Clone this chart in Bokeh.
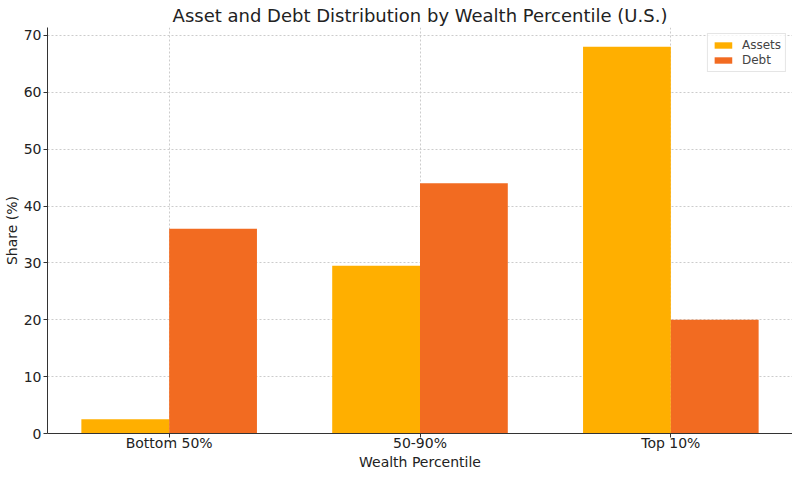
from bokeh.plotting import figure
from bokeh.models import ColumnDataSource, FactorRange, Legend, LegendItem
from bokeh.transform import dodge
from bokeh.embed import file_html
from bokeh.resources import INLINE

categories = ["Bottom 50%", "50-90%", "Top 10%"]
assets = [2.5, 29.5, 68]
debt = [36, 44, 20]
series_names = ["Assets", "Debt"]

src = ColumnDataSource(dict(cat=categories, assets=assets, debt=debt))

FONT = "DejaVu Sans"
p = figure(
    x_range=FactorRange(factors=categories, range_padding=-0.015, range_padding_units="absolute"),
    y_range=(0, 71.4),
    frame_width=745, frame_height=406,
    output_backend="svg", toolbar_location=None,
    title="Asset and Debt Distribution by Wealth Percentile (U.S.)",
    min_border_left=0, min_border_right=0, min_border_top=0, min_border_bottom=0,
)
p.title.align = "center"
p.title.text_font = FONT
p.title.text_font_size = "18px"
p.title.text_font_style = "normal"
p.title.text_color = "#222222"
p.title.standoff = 4
p.title.offset = 0

r1 = p.vbar(x=dodge("cat", -0.175, range=p.x_range), top="assets", width=0.35, source=src,
            fill_color="#FFAF00", line_color=None)
r2 = p.vbar(x=dodge("cat", 0.175, range=p.x_range), top="debt", width=0.35, source=src,
            fill_color="#F26B21", line_color=None)

legend = Legend(items=[LegendItem(label=series_names[0], renderers=[r1]),
                       LegendItem(label=series_names[1], renderers=[r2])],
                location="top_right")
legend.label_text_font = FONT
legend.label_text_font_size = "12px"
legend.glyph_width = 22
legend.glyph_height = 8
legend.label_height = 12
legend.spacing = 1
legend.padding = 4
legend.margin = 6
legend.label_standoff = 8
legend.border_line_color = "#cccccc"
legend.background_fill_alpha = 0.8
p.add_layout(legend)

for ax in (p.xaxis, p.yaxis):
    ax.axis_label_text_font = FONT
    ax.axis_label_text_font_style = "normal"
    ax.axis_label_text_font_size = "14px"
    ax.axis_label_text_color = "#222222"
    ax.major_label_text_font = FONT
    ax.major_label_text_font_size = "14px"
    ax.major_label_text_color = "#222222"
    ax.axis_line_color = "#333333"
    ax.major_tick_line_color = "#333333"
    ax.major_tick_out = 4
    ax.major_tick_in = 0
    ax.minor_tick_line_color = None
    ax.major_label_standoff = 2
    ax.axis_label_standoff = 1

p.xaxis.major_tick_out = 4
p.xaxis.major_label_standoff = -3
p.xaxis.axis_label_standoff = 0

p.xaxis.axis_label = "Wealth Percentile"
p.yaxis.axis_label = "Share (%)"
p.yaxis.ticker = [0, 10, 20, 30, 40, 50, 60, 70]

p.xgrid.grid_line_color = "#cccccc"
p.ygrid.grid_line_color = "#cccccc"
p.xgrid.grid_line_dash = "2 2"
p.ygrid.grid_line_dash = "2 2"
p.outline_line_color = None

open("out.html", "w").write(file_html(p, INLINE))
